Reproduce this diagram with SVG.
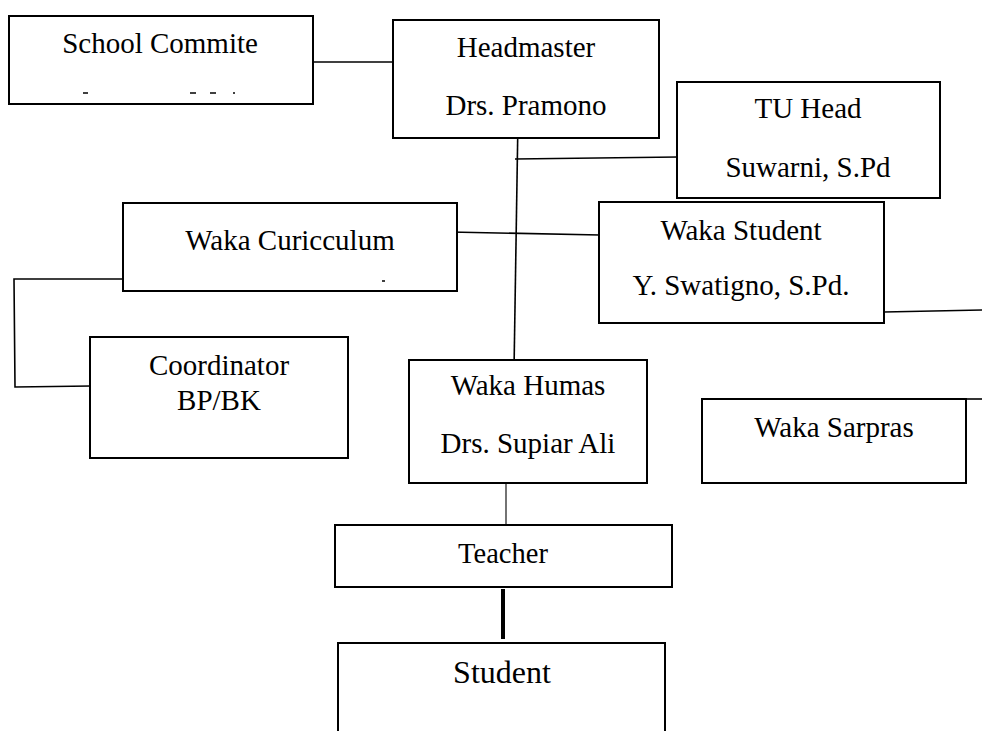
<svg xmlns="http://www.w3.org/2000/svg" width="982" height="731" viewBox="0 0 982 731">
<style>
.box{fill:#fff;stroke:#000;stroke-width:2}
.t{font-family:"Liberation Serif","Times New Roman",serif;font-size:29px;fill:#000;text-anchor:middle}
.c{fill:none;stroke:#000;stroke-width:1.6}
.frag{stroke:#000;stroke-width:1.5}
</style>
<rect width="982" height="731" fill="#fff"/>
<g id="connectors">
<line class="c" x1="308" y1="62" x2="394" y2="62"/>
<line class="c" x1="518" y1="118" x2="514" y2="370"/>
<line class="c" x1="515" y1="159" x2="678" y2="157"/>
<line class="c" x1="450" y1="232" x2="600" y2="235"/>
<polyline class="c" points="123,279 14,279 15,387 91,386"/>
<line class="c" x1="884" y1="312" x2="982" y2="310"/>
<line class="c" x1="966" y1="399" x2="982" y2="399"/>
<line x1="506" y1="462" x2="506" y2="525" stroke="#000" stroke-width="1.1"/>
<line x1="503" y1="589" x2="503" y2="639" stroke="#000" stroke-width="4"/>
</g>
<g id="school-commite">
<rect class="box" x="9" y="16" width="304" height="88"/>
<text class="t" x="160" y="53">School Commite</text>
<line class="frag" x1="83" y1="93" x2="88" y2="93"/>
<line class="frag" x1="190" y1="93" x2="196" y2="93"/>
<line class="frag" x1="210" y1="93" x2="216" y2="93"/>
<line class="frag" x1="233" y1="93" x2="235" y2="93"/>
</g>
<g id="headmaster">
<rect class="box" x="393" y="20" width="266" height="118"/>
<text class="t" x="526" y="57">Headmaster</text>
<text class="t" x="526" y="115">Drs. Pramono</text>
</g>
<g id="tu-head">
<rect class="box" x="677" y="82" width="263" height="116"/>
<text class="t" x="808" y="118">TU Head</text>
<text class="t" x="808" y="177">Suwarni, S.Pd</text>
</g>
<g id="waka-curicculum">
<rect class="box" x="123" y="203" width="334" height="88"/>
<text class="t" x="290" y="250">Waka Curicculum</text>
<line class="frag" x1="382" y1="281" x2="385" y2="281"/>
</g>
<g id="waka-student">
<rect class="box" x="599" y="202" width="285" height="121"/>
<text class="t" x="741" y="240">Waka Student</text>
<text class="t" x="741" y="295">Y. Swatigno, S.Pd.</text>
</g>
<g id="coordinator">
<rect class="box" x="90" y="337" width="258" height="121"/>
<text class="t" x="219" y="375">Coordinator</text>
<text class="t" x="219" y="410">BP/BK</text>
</g>
<g id="waka-humas">
<rect class="box" x="409" y="360" width="238" height="123"/>
<text class="t" x="528" y="395">Waka Humas</text>
<text class="t" x="528" y="453">Drs. Supiar Ali</text>
</g>
<g id="waka-sarpras">
<rect class="box" x="702" y="399" width="264" height="84"/>
<text class="t" x="834" y="437">Waka Sarpras</text>
</g>
<g id="teacher">
<rect class="box" x="335" y="525" width="337" height="62"/>
<text class="t" x="503" y="563" style="font-size:28.5px">Teacher</text>
</g>
<g id="student">
<rect class="box" x="338" y="643" width="327" height="100"/>
<text class="t" x="502" y="683" style="font-size:32px">Student</text>
</g>
</svg>
